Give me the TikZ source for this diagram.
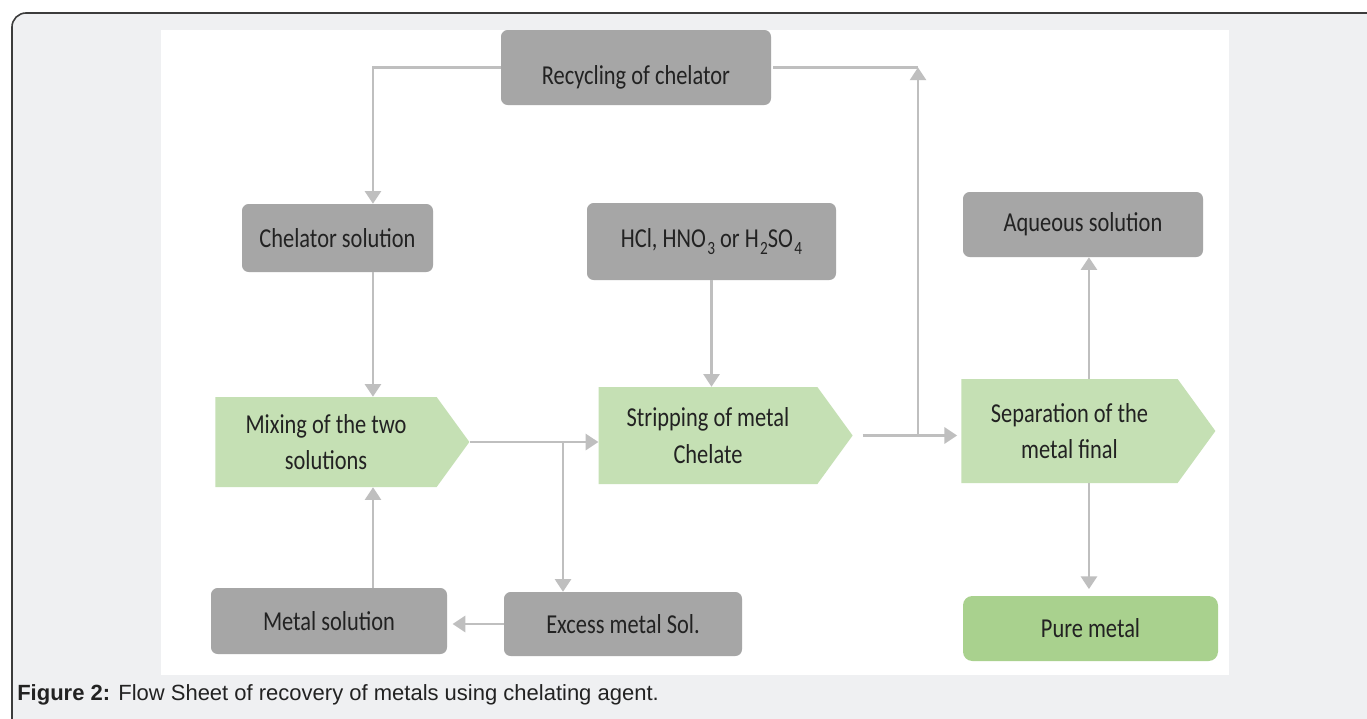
\documentclass[tikz,border=0pt]{standalone}
\usepackage{fontspec}
\setmainfont{Liberation Sans}
\newfontfamily\bxf[FakeStretch=0.82]{Carlito}
\usetikzlibrary{shapes.symbols,arrows.meta,calc}
\definecolor{framec}{HTML}{3C3C3C}
\definecolor{bgc}{HTML}{EFF0F2}
\definecolor{boxgray}{HTML}{A6A6A6}
\definecolor{grn}{HTML}{C5E0B4}
\definecolor{grnd}{HTML}{A9D18E}
\definecolor{lnc}{HTML}{BFBFBF}
\definecolor{txt}{HTML}{222222}
\newcommand{\lowsub}[1]{\raisebox{-0.55ex}{\fontsize{14}{14}\selectfont\kern1pt#1}}
\begin{document}
\begin{tikzpicture}[x=0.75pt,y=-0.75pt,
  graybox/.style={rectangle, rounded corners=5pt, fill=boxgray, text=txt,
    font=\bxf\fontsize{20.5}{27.5}\selectfont, align=center, inner sep=0pt},
  greenbox/.style={shape=signal, signal to=east, signal pointer angle=108,
    fill=grn, text=txt, font=\bxf\fontsize{20.5}{27.5}\selectfont, align=center, inner sep=0pt},
  conn/.style={draw=lnc, line width=2pt},
  arr/.style={conn, -{Triangle[length=9.5pt,width=12pt]}}]
\useasboundingbox (0,0) rectangle (1367,718);
\clip (0,0) rectangle (1367,718);
\draw[draw=framec, line width=1.2pt, fill=bgc, rounded corners=10.5pt] (12,13) rectangle (1420,760);
\fill[white] (161,30) rectangle (1229,675);

% gray boxes
\node[graybox, minimum width=202.5pt, minimum height=56.25pt, text height=25pt, text depth=0pt] (rec) at (636,67.5) {Recycling of chelator};
\node[graybox, minimum width=143.25pt, minimum height=51pt] (chel) at (337.5,238) {Chelator solution};
\node[graybox, minimum width=186.75pt, minimum height=57.75pt] (hcl) at (711.5,241.5) {HCl, HNO\lowsub{3} or H\lowsub{2}SO\lowsub{4}};
\node[graybox, minimum width=180pt, minimum height=48.75pt] (aq) at (1083,224.5) {Aqueous solution};
\node[graybox, minimum width=177pt, minimum height=49.5pt] (met) at (329,621) {Metal solution};
\node[graybox, minimum width=178.5pt, minimum height=48pt] (exc) at (623,624) {Excess metal Sol.};
\node[graybox, fill=grnd, rounded corners=7pt, minimum width=191.25pt, minimum height=48.75pt] (pure) at (1090.5,628.5) {Pure metal};

% green process arrows
\node[greenbox, minimum width=190.5pt, minimum height=67.5pt] (mix) at (326,442) {Mixing of the two\\solutions};
\node[greenbox, minimum width=190.5pt, minimum height=72.75pt] (strip) at (708,435.5) {Stripping of metal\\Chelate};
\node[greenbox, minimum width=190.5pt, minimum height=78pt] (sep) at (1069.5,431) {Separation of the\\metal final};

% connectors
\coordinate (j1) at (563,0);
\coordinate (j2) at (918,0);
\draw[arr] (rec.west) -| ([xshift=26.6pt]chel.north);
\draw[arr] ([xshift=26.6pt]chel.south) -- ([xshift=26.6pt]chel.south |- mix.north);
\draw[arr] ([xshift=33pt]met.north) -- ([xshift=33pt]met.north |- mix.south);
\draw[arr] (mix.east) -- (mix.east -| strip.west);
\draw[arr] (j1 |- mix.east) -- (j1 |- exc.north);
\draw[arr, shorten >=4pt] (exc.west) -- (exc.west -| met.east);
\draw[arr] (hcl.south) -- (hcl.south |- strip.north);
\draw[arr, shorten <=7.5pt, shorten >=3pt] (strip.east) -- (strip.east -| sep.west);
\draw[arr] (j2 |- strip.east) -- (j2 |- rec.east);
\draw[conn, shorten >=1.5pt] (j2 |- rec.east) -- (rec.east);
\draw[arr] ([xshift=14.6pt]sep.north) -- ([xshift=14.6pt]sep.north |- aq.south);
\draw[arr, shorten >=5pt] ([xshift=14.6pt]sep.south) -- ([xshift=14.6pt]sep.south |- pure.north);

% caption
\node[anchor=base west, inner sep=0pt, text=txt, font=\fontsize{16.5}{19}\selectfont] (cap) at (17,700) {\textbf{Figure 2:} Flow Sheet of recovery of metals using chelating agent.};
\end{tikzpicture}
\end{document}
